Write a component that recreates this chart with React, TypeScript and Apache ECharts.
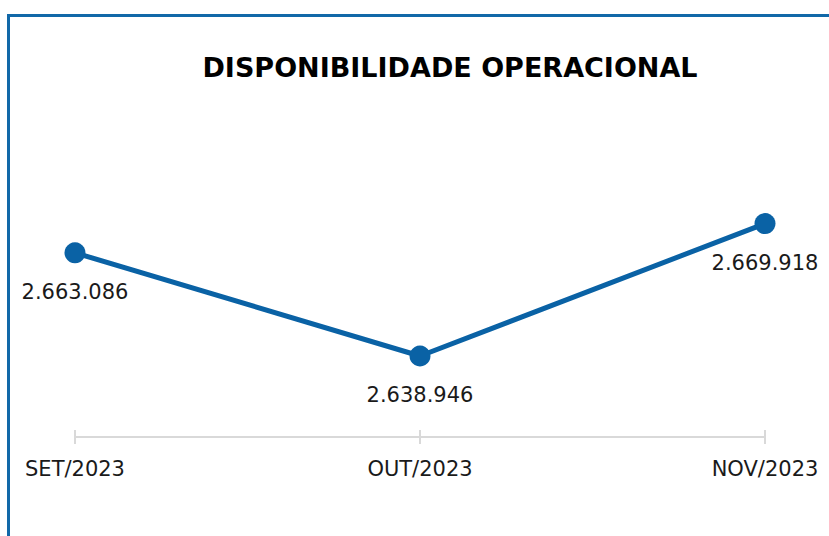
import React, { useEffect, useRef } from "react";
import * as echarts from "echarts";

const categories = ["SET/2023", "OUT/2023", "NOV/2023"];
const values = [2663086, 2638946, 2669918];
const yMin = 2620000;
const yMax = 2680000;
const titleText = "DISPONIBILIDADE OPERACIONAL";

const fmt = (v: number) =>
  Math.round(v)
    .toString()
    .replace(/\B(?=(\d{3})+(?!\d))/g, ".");

export default function App() {
  const ref = useRef<HTMLDivElement>(null);
  useEffect(() => {
    if (!ref.current) return;
    const chart = echarts.init(ref.current, undefined, { renderer: "svg" });
    const blue = "#0a62a5";
    const grey = "#d9d9d9";
    chart.setOption({
      animation: false,
      backgroundColor: "transparent",
      title: {
        text: titleText,
        left: 445,
        textAlign: "center",
        top: 49,
        textStyle: {
          fontFamily: "DejaVu Sans",
          fontWeight: "bold",
          fontSize: 27,
          color: "#000000",
        },
      },
      grid: { left: 75, right: 64, top: 180.5, bottom: 99 },
      xAxis: [
        {
          type: "category",
          data: categories,
          boundaryGap: false,
          position: "bottom",
          axisLine: { show: true, lineStyle: { color: grey, width: 2 } },
          axisTick: { show: true, length: 7, lineStyle: { color: grey, width: 2 } },
          axisLabel: {
            margin: 21,
            fontFamily: "DejaVu Sans",
            fontSize: 21,
            color: "#1a1a1a",
          },
          splitLine: { show: false },
        },
        {
          type: "category",
          data: categories,
          boundaryGap: false,
          position: "bottom",
          gridIndex: 0,
          axisLine: { show: false },
          axisTick: { show: true, inside: true, length: 7, lineStyle: { color: grey, width: 2 } },
          axisLabel: { show: false },
          splitLine: { show: false },
        },
      ],
      yAxis: {
        type: "value",
        min: yMin,
        max: yMax,
        show: false,
        splitLine: { show: false },
      },
      series: [
        {
          type: "line",
          xAxisIndex: 0,
          data: values,
          symbol: "circle",
          symbolSize: 21,
          lineStyle: { color: blue, width: 5 },
          itemStyle: { color: blue },
          label: {
            show: true,
            position: "bottom",
            distance: 18,
            formatter: (p: any) => fmt(p.value),
            fontFamily: "DejaVu Sans",
            fontSize: 21,
            color: "#1a1a1a",
          },
        },
      ],
    });
    return () => chart.dispose();
  }, []);

  return (
    <div
      style={{
        position: "fixed",
        left: 0,
        top: 0,
        width: 829,
        height: 536,
        overflow: "hidden",
        background: "#ffffff",
      }}
    >
      <div
        style={{
          position: "absolute",
          left: 7,
          top: 14,
          width: 900,
          height: 600,
          borderLeft: "3px solid #1168a8",
          borderTop: "3px solid #1168a8",
          boxSizing: "border-box",
        }}
      />
      <div
        ref={ref}
        style={{ position: "absolute", left: 0, top: 0, width: 829, height: 536 }}
      />
    </div>
  );
}
